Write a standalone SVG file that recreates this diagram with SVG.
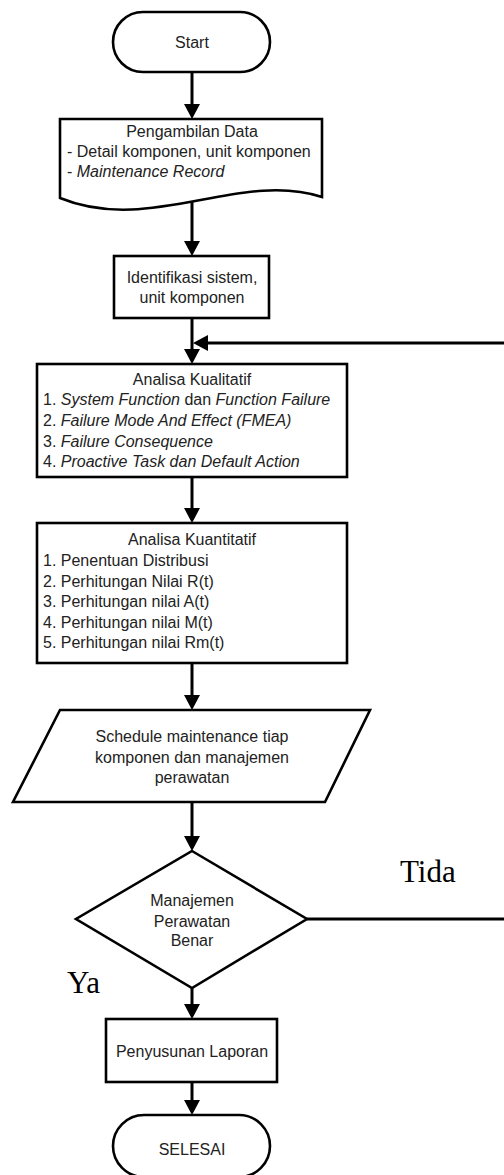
<svg xmlns="http://www.w3.org/2000/svg" width="504" height="1175" viewBox="0 0 504 1175">
<defs>
<style>
.shape{fill:#fff;stroke:#000;stroke-width:2.6}
.t{font-family:"Liberation Sans",Arial,sans-serif;font-size:16px;fill:#222}
.c{text-anchor:middle}
.i{font-style:italic}
.lbl{font-family:"Liberation Serif","Times New Roman",serif;font-size:31px;fill:#000}
.conn{stroke:#000;stroke-width:3;fill:none}
.arr{marker-end:url(#ah)}
</style>
<marker id="ah" markerUnits="userSpaceOnUse" markerWidth="16" markerHeight="16" refX="11" refY="8" orient="auto">
<path d="M0,0 L15,8 L0,16 Z" fill="#000"/>
</marker>
</defs>
<rect width="504" height="1175" fill="#fff"/>
<g id="connectors">
<line class="conn arr" x1="192" y1="72" x2="192" y2="115"/>
<line class="conn arr" x1="192" y1="201" x2="192" y2="252"/>
<line class="conn arr" x1="192" y1="318" x2="192" y2="360"/>
<line class="conn arr" x1="504" y1="343" x2="197" y2="343"/>
<line class="conn arr" x1="192" y1="477" x2="192" y2="519"/>
<line class="conn arr" x1="192" y1="663" x2="192" y2="706"/>
<line class="conn arr" x1="192" y1="802" x2="192" y2="847"/>
<line class="conn arr" x1="192" y1="988" x2="192" y2="1015"/>
<line class="conn arr" x1="192" y1="1082" x2="192" y2="1111"/>
<line class="conn" x1="307" y1="919" x2="504" y2="919"/>
</g>
<g id="start">
<rect class="shape" x="113" y="12" width="157" height="60" rx="30" ry="30"/>
<text class="t c" x="192" y="48">Start</text>
</g>
<g id="pengambilan-data">
<path class="shape" d="M60,119 H322 V197 C240,170 150,235 60,198 Z"/>
<text class="t c" x="192" y="137">Pengambilan Data</text>
<text class="t" x="67" y="157">- Detail komponen, unit komponen</text>
<text class="t" x="67" y="177">- <tspan class="i">Maintenance Record</tspan></text>
</g>
<g id="identifikasi">
<rect class="shape" x="114" y="256" width="155" height="62"/>
<text class="t c" x="192" y="283">Identifikasi sistem,</text>
<text class="t c" x="192" y="303">unit komponen</text>
</g>
<g id="analisa-kualitatif">
<rect class="shape" x="37" y="364" width="310" height="113"/>
<text class="t c" x="192" y="385">Analisa Kualitatif</text>
<text class="t" x="43" y="405">1. <tspan class="i">System Function</tspan> dan <tspan class="i">Function Failure</tspan></text>
<text class="t" x="43" y="426">2. <tspan class="i">Failure Mode And Effect (FMEA)</tspan></text>
<text class="t" x="43" y="447">3. <tspan class="i">Failure Consequence</tspan></text>
<text class="t" x="43" y="467">4. <tspan class="i">Proactive Task dan Default Action</tspan></text>
</g>
<g id="analisa-kuantitatif">
<rect class="shape" x="37" y="523" width="310" height="140"/>
<text class="t c" x="192" y="545">Analisa Kuantitatif</text>
<text class="t" x="43" y="566">1. Penentuan Distribusi</text>
<text class="t" x="43" y="587">2. Perhitungan Nilai R(t)</text>
<text class="t" x="43" y="607">3. Perhitungan nilai A(t)</text>
<text class="t" x="43" y="628">4. Perhitungan nilai M(t)</text>
<text class="t" x="43" y="648">5. Perhitungan nilai Rm(t)</text>
</g>
<g id="schedule">
<polygon class="shape" points="60,710 370,710 325,802 13,802"/>
<text class="t c" x="192" y="742">Schedule maintenance tiap</text>
<text class="t c" x="192" y="763">komponen dan manajemen</text>
<text class="t c" x="192" y="783">perawatan</text>
</g>
<g id="decision">
<polygon class="shape" points="192,851 307,919 192,988 76,919"/>
<text class="t c" x="192" y="906">Manajemen</text>
<text class="t c" x="192" y="927">Perawatan</text>
<text class="t c" x="192" y="946">Benar</text>
</g>
<g id="labels">
<text class="lbl" x="400" y="882">Tida</text>
<text class="lbl" x="67" y="993">Ya</text>
</g>
<g id="penyusunan">
<rect class="shape" x="106" y="1019" width="171" height="63"/>
<text class="t c" x="192" y="1057">Penyusunan Laporan</text>
</g>
<g id="selesai">
<rect class="shape" x="113" y="1115" width="157" height="62" rx="31" ry="31"/>
<text class="t c" x="192" y="1155">SELESAI</text>
</g>
</svg>
